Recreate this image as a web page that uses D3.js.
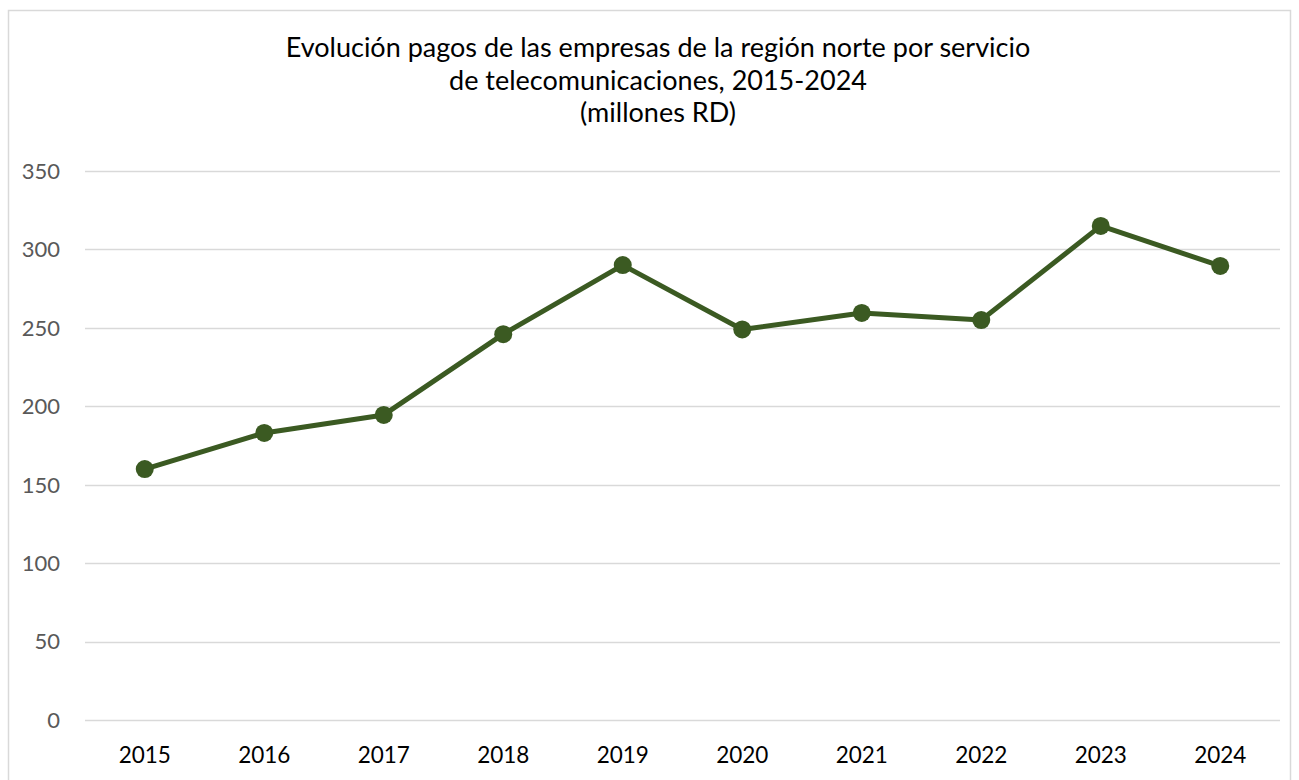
<!DOCTYPE html>
<html>
<head>
<meta charset="utf-8">
<script src="https://cdn.jsdelivr.net/npm/d3@7"></script>
<style>
  body { margin: 0; background: #fff; }
  svg { display: block; font-family: Lato, "Open Sans", sans-serif; }
</style>
</head>
<body>
<svg id="chart" width="1299" height="780"></svg>
<script>
var years = ['2015','2016','2017','2018','2019','2020','2021','2022','2023','2024'];
var pagos = [160, 183, 194.5, 246, 290, 249, 259.5, 255, 315, 289.5];
var yTicks = [0, 50, 100, 150, 200, 250, 300, 350];
var titleLines = [
  'Evolución pagos de las empresas de la región norte por servicio',
  'de telecomunicaciones, 2015-2024',
  '(millones RD)'
];

var svg = d3.select('#chart');

// chart frame
svg.append('rect')
  .attr('x', 8.5).attr('y', 10.5)
  .attr('width', 1282).attr('height', 800)
  .attr('fill', 'none')
  .attr('stroke', '#d9d9d9')
  .attr('stroke-width', 1.5);

var plotLeft = 85, plotRight = 1280, plotTop = 171, plotBottom = 720;

var x = d3.scaleBand().domain(years).range([plotLeft, plotRight]);
var y = d3.scaleLinear().domain([0, 350]).range([plotBottom, plotTop]);

// gridlines
svg.append('g')
  .selectAll('line')
  .data(yTicks)
  .enter()
  .append('line')
  .attr('x1', plotLeft).attr('x2', plotRight)
  .attr('y1', function(d){ return Math.round(y(d)) + 0.5 })
  .attr('y2', function(d){ return Math.round(y(d)) + 0.5 })
  .attr('stroke', '#d9d9d9')
  .attr('stroke-width', 1.5);

// y labels
svg.append('g')
  .selectAll('text')
  .data(yTicks)
  .enter()
  .append('text')
  .attr('x', 60)
  .attr('y', function(d){ return y(d) })
  .attr('dy', '0.36em')
  .attr('text-anchor', 'end')
  .attr('font-size', 22)
  .attr('fill', '#595959')
  .text(function(d){ return d });

// x labels
svg.append('g')
  .selectAll('text')
  .data(years)
  .enter()
  .append('text')
  .attr('x', function(d){ return x(d) + x.bandwidth() / 2 })
  .attr('y', 763)
  .attr('text-anchor', 'middle')
  .attr('font-size', 22.5)
  .attr('fill', '#000')
  .text(function(d){ return d });

// title
svg.append('g')
  .selectAll('text')
  .data(titleLines)
  .enter()
  .append('text')
  .attr('x', 658)
  .attr('y', function(d, i){ return 57 + i * 32.5 })
  .attr('text-anchor', 'middle')
  .attr('font-size', 27)
  .attr('fill', '#000')
  .text(function(d){ return d });

var pts = years.map(function(yr, i){ return { year: yr, value: pagos[i] } });

var line = d3.line()
  .x(function(d){ return x(d.year) + x.bandwidth() / 2 })
  .y(function(d){ return y(d.value) });

svg.append('path')
  .datum(pts)
  .attr('d', line)
  .attr('fill', 'none')
  .attr('stroke', '#3b5a22')
  .attr('stroke-width', 5)
  .attr('stroke-linejoin', 'round')
  .attr('stroke-linecap', 'round');

svg.append('g')
  .selectAll('circle')
  .data(pts)
  .enter()
  .append('circle')
  .attr('cx', function(d){ return x(d.year) + x.bandwidth() / 2 })
  .attr('cy', function(d){ return y(d.value) })
  .attr('r', 9)
  .attr('fill', '#3b5a22');
</script>
</body>
</html>
